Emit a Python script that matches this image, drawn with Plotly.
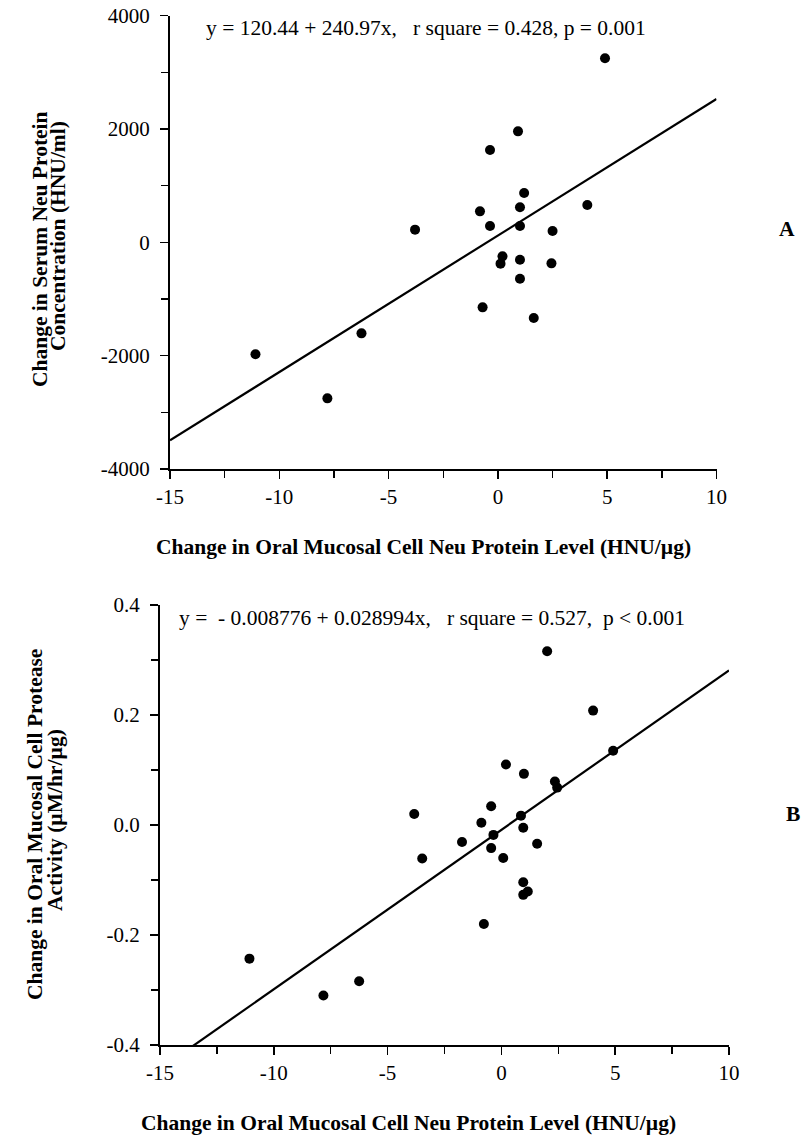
import numpy as np
import plotly.graph_objects as go

W, H = 801, 1136
FONT = "Liberation Serif, Times New Roman, serif"

# ---- data: panel A (serum neu protein vs oral mucosal neu protein)
a_x = [4.9, 0.92, -0.36, 1.2, -0.82, 1.01, 4.09, -0.36, 1.01, 2.5, -3.79,
       0.21, 0.12, 1.01, 2.45, 1.01, -0.7, 1.64, -6.24, -11.09, -7.8]
a_y = [3250, 1959, 1629, 871, 547, 618, 659, 288, 288, 200, 224,
       -247, -376, -306, -371, -641, -1147, -1335, -1606, -1976, -2753]
a_intercept, a_slope = 120.44, 240.97

# ---- data: panel B (protease activity vs oral mucosal neu protein)
b_x = [-11.07, -7.82, -6.25, -3.83, -3.48, -1.73, -0.88, -0.45, -0.35, -0.45,
       0.08, -0.77, 0.86, 0.96, 1.57, 0.96, 0.96, 1.16, 2.01, 4.03, 4.91,
       0.20, 0.99, 2.35, 2.45]
b_y = [-0.243, -0.310, -0.284, 0.020, -0.061, -0.031, 0.004, 0.034, -0.018,
       -0.042, -0.060, -0.180, 0.017, -0.005, -0.034, -0.104, -0.127, -0.121,
       0.316, 0.208, 0.135, 0.110, 0.093, 0.079, 0.068]
b_intercept, b_slope = -0.008776, 0.028994

# ---- ticks
x_tickvals = [-15, -10, -5, 0, 5, 10]
x_ticktext = ["-15", "-10", "-5", "0", "5", "10"]
a_y_tickvals = [-4000, -2000, 0, 2000, 4000]
a_y_ticktext = ["-4000", "-2000", "0", "2000", "4000"]
b_y_tickvals = [-0.4, -0.2, 0.0, 0.2, 0.4]
b_y_ticktext = ["-0.4", "-0.2", "0.0", "0.2", "0.4"]

x_title = "Change in Oral Mucosal Cell Neu Protein Level (HNU/µg)"
a_eq = "y = 120.44 + 240.97x,\u00a0\u00a0 r square = 0.428, p = 0.001"
b_eq = "y =\u00a0 - 0.008776 + 0.028994x,\u00a0\u00a0 r square = 0.527,\u00a0 p &lt; 0.001"


def px(v):
    return v / W


def py(v):
    return 1 - v / H


fig = go.Figure()

line_x = np.array([-15, 10])
fig.add_trace(go.Scatter(x=line_x, y=a_intercept + a_slope * line_x, mode="lines",
                         line=dict(color="black", width=2.2), xaxis="x", yaxis="y",
                         hoverinfo="skip"))
fig.add_trace(go.Scatter(x=a_x, y=a_y, mode="markers",
                         marker=dict(color="black", size=10), xaxis="x", yaxis="y"))
fig.add_trace(go.Scatter(x=line_x, y=b_intercept + b_slope * line_x, mode="lines",
                         line=dict(color="black", width=2.2), xaxis="x2", yaxis="y2",
                         hoverinfo="skip"))
fig.add_trace(go.Scatter(x=b_x, y=b_y, mode="markers",
                         marker=dict(color="black", size=10), xaxis="x2", yaxis="y2"))

tickfont = dict(family=FONT, size=21, color="black")
common = dict(showline=True, linecolor="black", linewidth=2, ticks="outside",
              ticklen=8, tickwidth=1.5, tickcolor="black", showgrid=False,
              zeroline=False, tickfont=tickfont, automargin=False, fixedrange=True,
              ticklabeloverflow="allow")
minor_common = dict(tickmode="linear", tick0=0, ticks="outside", ticklen=7,
                    tickwidth=1.5, tickcolor="black")

fig.update_layout(
    width=W, height=H, autosize=False,
    margin=dict(l=0, r=0, t=0, b=0),
    paper_bgcolor="white", plot_bgcolor="white",
    showlegend=False,
    xaxis=dict(domain=[px(170), px(716.5)], anchor="y", range=[-15, 10],
               tickmode="array", tickvals=x_tickvals, ticktext=x_ticktext,
               ticklabelstandoff=0, minor=dict(dtick=2.5, **minor_common),
               **common),
    yaxis=dict(domain=[py(469), py(15.7)], anchor="x", range=[-4000, 4000],
               tickmode="array", tickvals=a_y_tickvals, ticktext=a_y_ticktext,
               ticklabelstandoff=6, minor=dict(dtick=1000, **minor_common),
               **common),
    xaxis2=dict(domain=[px(160), px(729)], anchor="y2", range=[-15, 10],
                tickmode="array", tickvals=x_tickvals, ticktext=x_ticktext,
                ticklabelstandoff=0, minor=dict(dtick=2.5, **minor_common),
                **common),
    yaxis2=dict(domain=[py(1045), py(605)], anchor="x2", range=[-0.4, 0.4],
                tickmode="array", tickvals=b_y_tickvals, ticktext=b_y_ticktext,
                ticklabelstandoff=6, minor=dict(dtick=0.1, **minor_common),
                **common),
)

bold = dict(family=FONT, size=21.5, color="black")
eqfont = dict(family=FONT, size=21.5, color="black")


def ann(text, x, y, font, xanchor="center", angle=0):
    fig.add_annotation(text=text, x=px(x), y=py(y), xref="paper", yref="paper",
                       xanchor=xanchor, yanchor="middle", showarrow=False,
                       font=font, textangle=angle)


ann(a_eq, 204, 28, eqfont, xanchor="left")
ann(b_eq, 177, 618, eqfont, xanchor="left")
ann("<b>" + x_title + "</b>", 424, 547, bold)
ann("<b>" + x_title + "</b>", 408, 1123, bold)
ann("<b>Change in Serum Neu Protein</b>", 40, 249, bold, angle=-90)
ann("<b>Concentration (HNU/ml)</b>", 58, 236, bold, angle=-90)
ann("<b>Change in Oral Mucosal Cell Protease</b>", 35, 825, bold, angle=-90)
ann("<b>Activity (µM/hr/µg)</b>", 55, 820, bold, angle=-90)
ann("<b>A</b>", 787, 229, bold)
ann("<b>B</b>", 793, 814, bold)

# remove the default page margin so the 801x1136 figure fills the window exactly
fig.write_html("out.html",
               config={"displayModeBar": False, "staticPlot": True},
               post_script="document.body.style.margin='0';"
                           "document.body.style.overflow='hidden';")
